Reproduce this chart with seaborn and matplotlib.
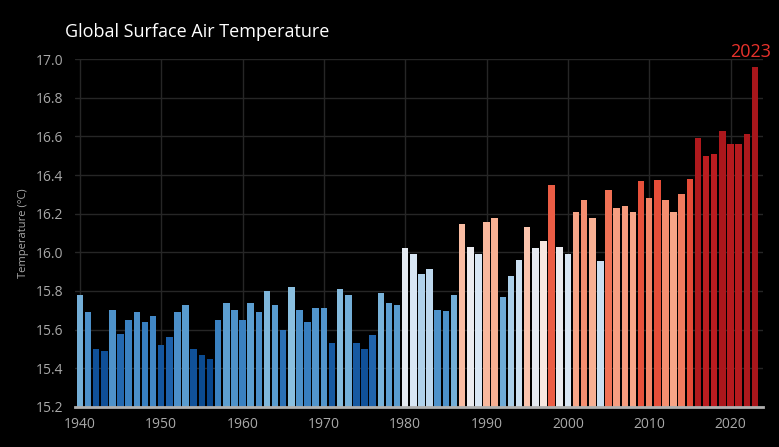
import numpy as np
import pandas as pd
import matplotlib
matplotlib.use("Agg")
import matplotlib.pyplot as plt
import seaborn as sns
from matplotlib.colors import LinearSegmentedColormap

# data
years = list(range(1940, 2024))
temps = [15.78, 15.69, 15.50, 15.49, 15.70, 15.58, 15.65, 15.69, 15.64, 15.67,
         15.52, 15.56, 15.69, 15.73, 15.50, 15.47, 15.45, 15.65, 15.74, 15.70,
         15.65, 15.74, 15.69, 15.80, 15.73, 15.60, 15.82, 15.70, 15.64, 15.71,
         15.71, 15.53, 15.81, 15.78, 15.53, 15.50, 15.57, 15.79, 15.74, 15.73,
         16.02, 15.99, 15.89, 15.915, 15.70, 15.695, 15.78, 16.145, 16.03, 15.99,
         16.155, 16.18, 15.77, 15.88, 15.96, 16.13, 16.02, 16.06, 16.35, 16.03,
         15.99, 16.21, 16.27, 16.18, 15.955, 16.32, 16.23, 16.24, 16.21, 16.37,
         16.28, 16.375, 16.27, 16.21, 16.30, 16.38, 16.59, 16.50, 16.51, 16.63,
         16.56, 16.56, 16.61, 16.96]
yticks = [15.2, 15.4, 15.6, 15.8, 16.0, 16.2, 16.4, 16.6, 16.8, 17.0]
xticks = [1940, 1950, 1960, 1970, 1980, 1990, 2000, 2010, 2020]

df = pd.DataFrame({"year": years, "temp": temps})
df["label"] = df["year"].astype(str)

# stripes-like colour ramp (blue below ~16.05, red above)
vmin, vmax = 15.45, 16.65
anchors = [(15.45, "#08468c"), (15.55, "#1a5ea8"), (15.65, "#3b82c2"),
           (15.75, "#62a3d3"), (15.82, "#8cc0e0"), (15.90, "#b7d4ec"),
           (16.00, "#dbe8f5"), (16.05, "#f6eeea"), (16.10, "#fdd5c3"),
           (16.16, "#f9b69a"), (16.25, "#f5987a"), (16.33, "#ef6c50"),
           (16.40, "#e23f2e"), (16.50, "#bd1d20"), (16.65, "#a8161b")]
cmap = LinearSegmentedColormap.from_list(
    "temps", [((v - vmin) / (vmax - vmin), c) for v, c in anchors])
colors = {lab: cmap(np.clip((t - vmin) / (vmax - vmin), 0, 1))
          for lab, t in zip(df["label"], df["temp"])}

sns.set_style("dark")
plt.rcParams['font.family'] = ['Open Sans', 'DejaVu Sans']

fig = plt.figure(figsize=(7.79, 4.47), dpi=100, facecolor="black")
ax = fig.add_axes([0.0963, 0.0895, 0.8832, 0.7785])
ax.set_facecolor("black")

sns.barplot(data=df, x="year", y="temp", hue="label", palette=colors,
            native_scale=True, dodge=False, legend=False, width=0.8,
            saturation=1, linewidth=0, ax=ax)

ax.set_ylim(15.2, 17.0)
ax.set_xlim(1939.4, 2024.0)
ax.set_yticks(yticks)
ax.set_yticklabels([f"{v:.1f}" for v in yticks])
ax.set_xticks(xticks)
ax.set_xticklabels([str(v) for v in xticks])
ax.grid(True, color="#262626", linewidth=1)
ax.set_axisbelow(True)

for side in ["top", "right", "left"]:
    ax.spines[side].set_visible(False)
ax.spines["bottom"].set_color("#b0b0b0")
ax.spines["bottom"].set_linewidth(2)
ax.tick_params(axis="both", colors="#9a9a9a", labelsize=10, length=4,
               labelcolor="#a8a8a8")
ax.tick_params(axis="y", length=5, color="#9a9a9a")

ax.set_xlabel("")
ax.set_ylabel("Temperature (°C)", color="#a8a8a8", fontsize=8, labelpad=5)

fig.text(0.083, 0.928, "Global Surface Air Temperature", color="white",
         fontsize=13, ha="left", va="center")
ax.text(years[-1] - 0.5, 17.035, str(years[-1]), color="#e8322c", fontsize=13,
        ha="center", va="center", clip_on=False)

fig.savefig("out.png", dpi=100, facecolor="black")
